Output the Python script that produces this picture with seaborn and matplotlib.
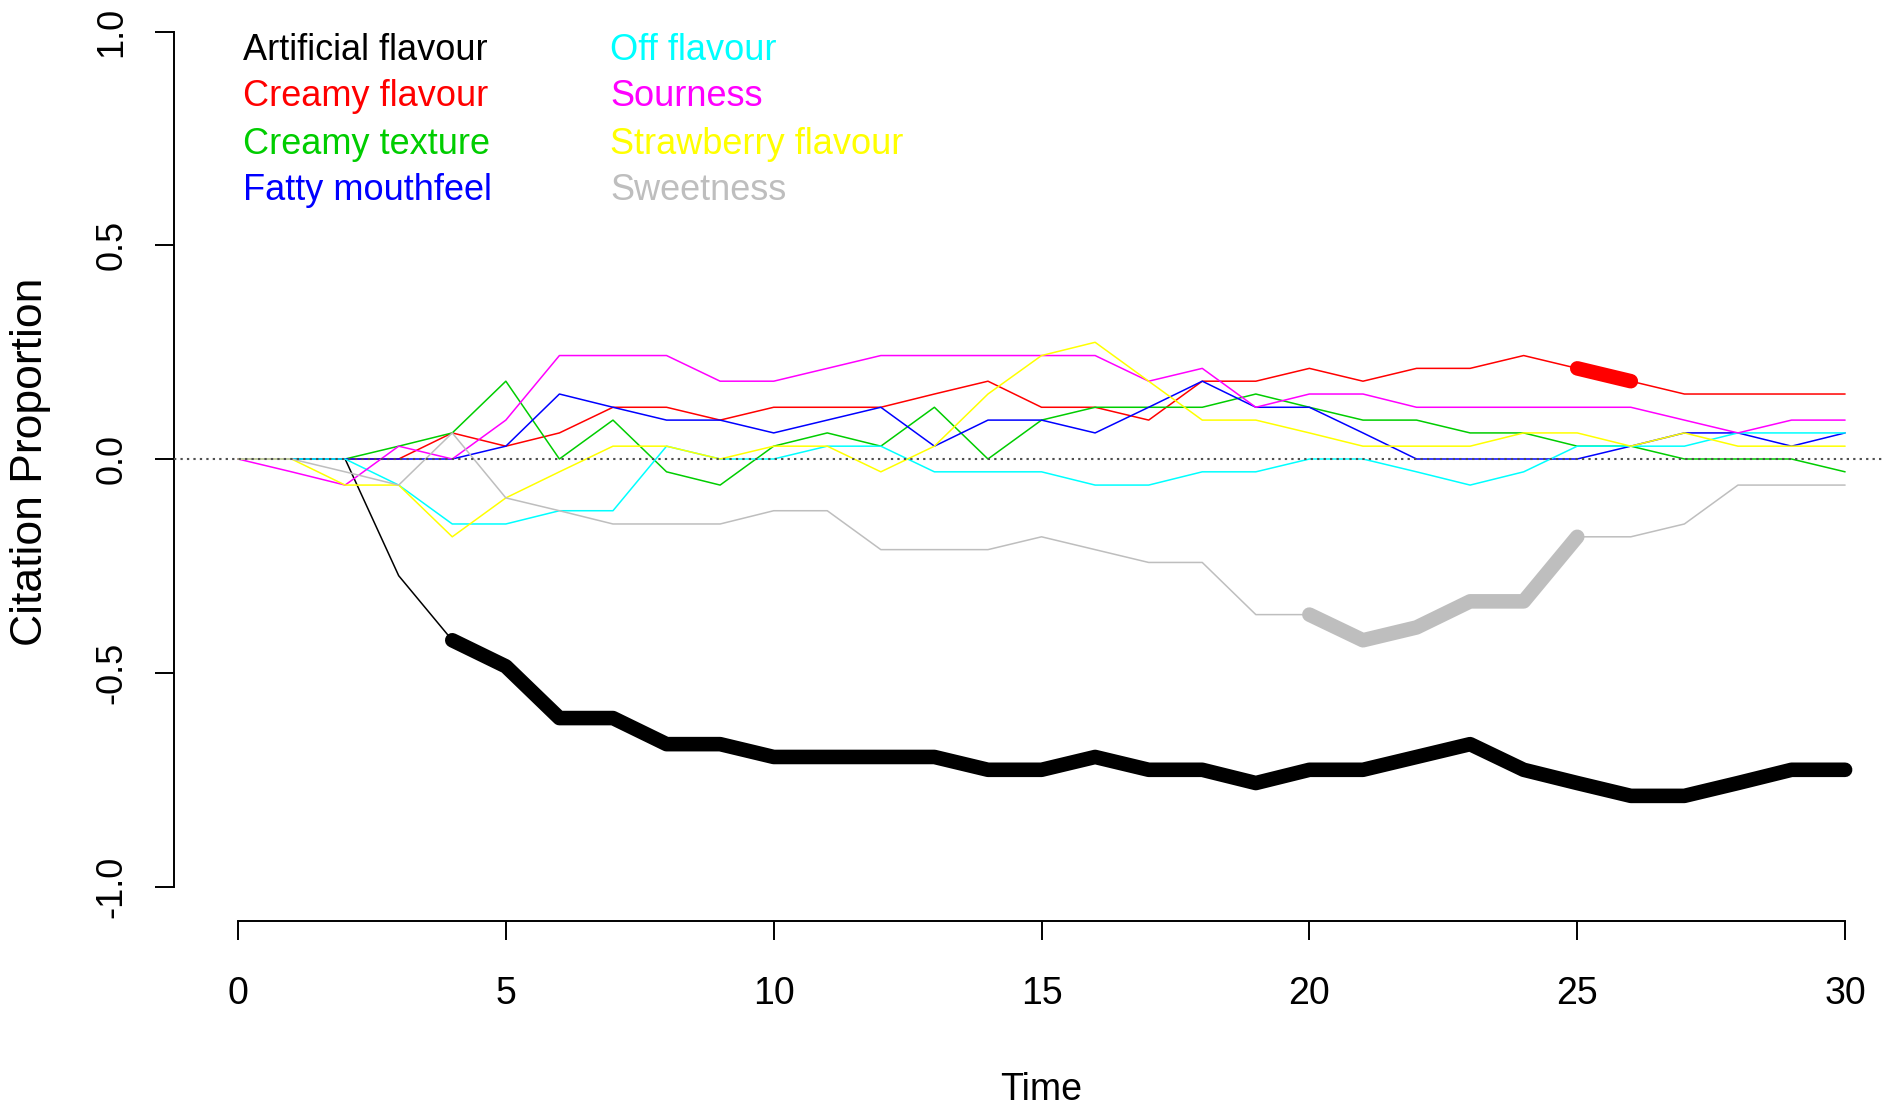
import numpy as np
import pandas as pd
import matplotlib
matplotlib.use("Agg")
import matplotlib.pyplot as plt
import seaborn as sns

# ---------------- data (citation proportion) ----------------
time = list(range(31))

artificial_flavour = [0, 0, 0, -0.273, -0.424, -0.485, -0.606, -0.606, -0.667, -0.667, -0.697,
                      -0.697, -0.697, -0.697, -0.727, -0.727, -0.697, -0.727, -0.727, -0.758, -0.727,
                      -0.727, -0.697, -0.667, -0.727, -0.758, -0.788, -0.788, -0.758, -0.727, -0.727]
creamy_flavour = [0, 0, 0, 0, 0.061, 0.030, 0.061, 0.121, 0.121, 0.091, 0.121,
                  0.121, 0.121, 0.152, 0.182, 0.121, 0.121, 0.091, 0.182, 0.182, 0.212,
                  0.182, 0.212, 0.212, 0.242, 0.212, 0.182, 0.152, 0.152, 0.152, 0.152]
creamy_texture = [0, 0, 0, 0.030, 0.061, 0.182, 0, 0.091, -0.030, -0.061, 0.030,
                  0.061, 0.030, 0.121, 0, 0.091, 0.121, 0.121, 0.121, 0.152, 0.121,
                  0.091, 0.091, 0.061, 0.061, 0.030, 0.030, 0, 0, 0, -0.030]
fatty_mouthfeel = [0, 0, 0, 0, 0, 0.030, 0.152, 0.121, 0.091, 0.091, 0.061,
                   0.091, 0.121, 0.030, 0.091, 0.091, 0.061, 0.121, 0.182, 0.121, 0.121,
                   0.061, 0, 0, 0, 0, 0.030, 0.061, 0.061, 0.030, 0.061]
off_flavour = [0, 0, 0, -0.061, -0.152, -0.152, -0.121, -0.121, 0.030, 0, 0,
               0.030, 0.030, -0.030, -0.030, -0.030, -0.061, -0.061, -0.030, -0.030, 0,
               0, -0.030, -0.061, -0.030, 0.030, 0.030, 0.030, 0.061, 0.061, 0.061]
sourness = [0, -0.030, -0.061, 0.030, 0, 0.091, 0.242, 0.242, 0.242, 0.182, 0.182,
            0.212, 0.242, 0.242, 0.242, 0.242, 0.242, 0.182, 0.212, 0.121, 0.152,
            0.152, 0.121, 0.121, 0.121, 0.121, 0.121, 0.091, 0.061, 0.091, 0.091]
strawberry_flavour = [0, 0, -0.061, -0.061, -0.182, -0.091, -0.030, 0.030, 0.030, 0, 0.030,
                      0.030, -0.030, 0.030, 0.152, 0.242, 0.273, 0.182, 0.091, 0.091, 0.061,
                      0.030, 0.030, 0.030, 0.061, 0.061, 0.030, 0.061, 0.030, 0.030, 0.030]
sweetness = [0, 0, -0.030, -0.061, 0.061, -0.091, -0.121, -0.152, -0.152, -0.152, -0.121,
             -0.121, -0.212, -0.212, -0.212, -0.182, -0.212, -0.242, -0.242, -0.364, -0.364,
             -0.424, -0.394, -0.333, -0.333, -0.182, -0.182, -0.152, -0.061, -0.061, -0.061]

attributes = ["Artificial flavour", "Creamy flavour", "Creamy texture", "Fatty mouthfeel",
              "Off flavour", "Sourness", "Strawberry flavour", "Sweetness"]
colors = ["#000000", "#FF0000", "#00CD00", "#0000FF",
          "#00FFFF", "#FF00FF", "#FFFF00", "#BEBEBE"]
series = [artificial_flavour, creamy_flavour, creamy_texture, fatty_mouthfeel,
          off_flavour, sourness, strawberry_flavour, sweetness]

# significant (highlighted) periods: attribute, start time, end time
sig_attr = ["Artificial flavour", "Creamy flavour", "Sweetness"]
sig_start = [4, 25, 20]
sig_end = [30, 26, 25]

y_ticks = [-1.0, -0.5, 0.0, 0.5, 1.0]
y_ticklabels = ["-1.0", "-0.5", "0.0", "0.5", "1.0"]
x_ticks = [0, 5, 10, 15, 20, 25, 30]

# ---------------- build long table ----------------
rows = []
for name, vals in zip(attributes, series):
    for t, v in zip(time, vals):
        rows.append({"Time": t, "Proportion": v, "Attribute": name})
df = pd.DataFrame(rows)

sig_rows = []
for name, s, e in zip(sig_attr, sig_start, sig_end):
    sub = df[(df["Attribute"] == name) & (df["Time"] >= s) & (df["Time"] <= e)]
    sig_rows.append(sub)
df_sig = pd.concat(sig_rows)

palette = dict(zip(attributes, colors))

# ---------------- style ----------------
sns.set_theme(style="white")
plt.rcParams["font.family"] = ["Liberation Sans", "DejaVu Sans"]
plt.rcParams["text.color"] = "black"
plt.rcParams["xtick.color"] = "black"
plt.rcParams["ytick.color"] = "black"
plt.rcParams["axes.edgecolor"] = "black"

W, H = 1883, 1105
fig = plt.figure(figsize=(W / 100, H / 100), dpi=100)
ax = fig.add_axes([173.7 / W, (H - 920.7) / H, (W - 173.7) / W, 923.4 / H])

sns.lineplot(data=df, x="Time", y="Proportion", hue="Attribute", hue_order=attributes,
             palette=palette, estimator=None, sort=False, linewidth=1.1,
             legend=False, ax=ax)
sig_order = [a for a in attributes if a in sig_attr]
sns.lineplot(data=df_sig, x="Time", y="Proportion", hue="Attribute", hue_order=sig_order,
             palette=palette, estimator=None, sort=False, linewidth=10.5,
             solid_capstyle="round", legend=False, ax=ax)

ax.axhline(0, color="#505050", linewidth=1.5, linestyle=(0, (1.1, 2.0)), zorder=6)

ax.set_xlim(-1.2, (W - 238) / 53.57)
ax.set_ylim(-1.08, 1.08)
ax.set_xticks(x_ticks)
ax.set_xticklabels([str(x) for x in x_ticks])
ax.set_yticks(y_ticks)
ax.set_yticklabels(y_ticklabels)
ax.set_xlabel("")
ax.set_ylabel("")

for s in ["top", "right"]:
    ax.spines[s].set_visible(False)
ax.spines["left"].set_bounds(-1, 1)
ax.spines["bottom"].set_bounds(0, 30)
ax.spines["left"].set_linewidth(1.4)
ax.spines["bottom"].set_linewidth(1.4)

ax.tick_params(axis="both", direction="out", length=14, width=1.4, labelsize=26,
               left=True, bottom=True)
ax.tick_params(axis="x", pad=26, labelsize=27)
ax.tick_params(axis="y", pad=18)
for lab in ax.get_yticklabels():
    lab.set_rotation(90)
    lab.set_va("center")

fig.text(31 / W, 1 - 462 / H, "Citation Proportion", rotation=90,
         ha="center", va="center", fontsize=32)
fig.text(1041.6 / W, 1 - 1090.5 / H, "Time", ha="center", va="center", fontsize=27)

# legend text (two columns, coloured labels)
col_x = [242.6, 610.0]
row_y = [50.5, 96.5, 144.0, 190.0]
for i, (name, c) in enumerate(zip(attributes, colors)):
    fig.text(col_x[i // 4] / W, 1 - row_y[i % 4] / H, name, color=c,
             fontsize=26, ha="left", va="center")

fig.savefig("out.png", dpi=100)
